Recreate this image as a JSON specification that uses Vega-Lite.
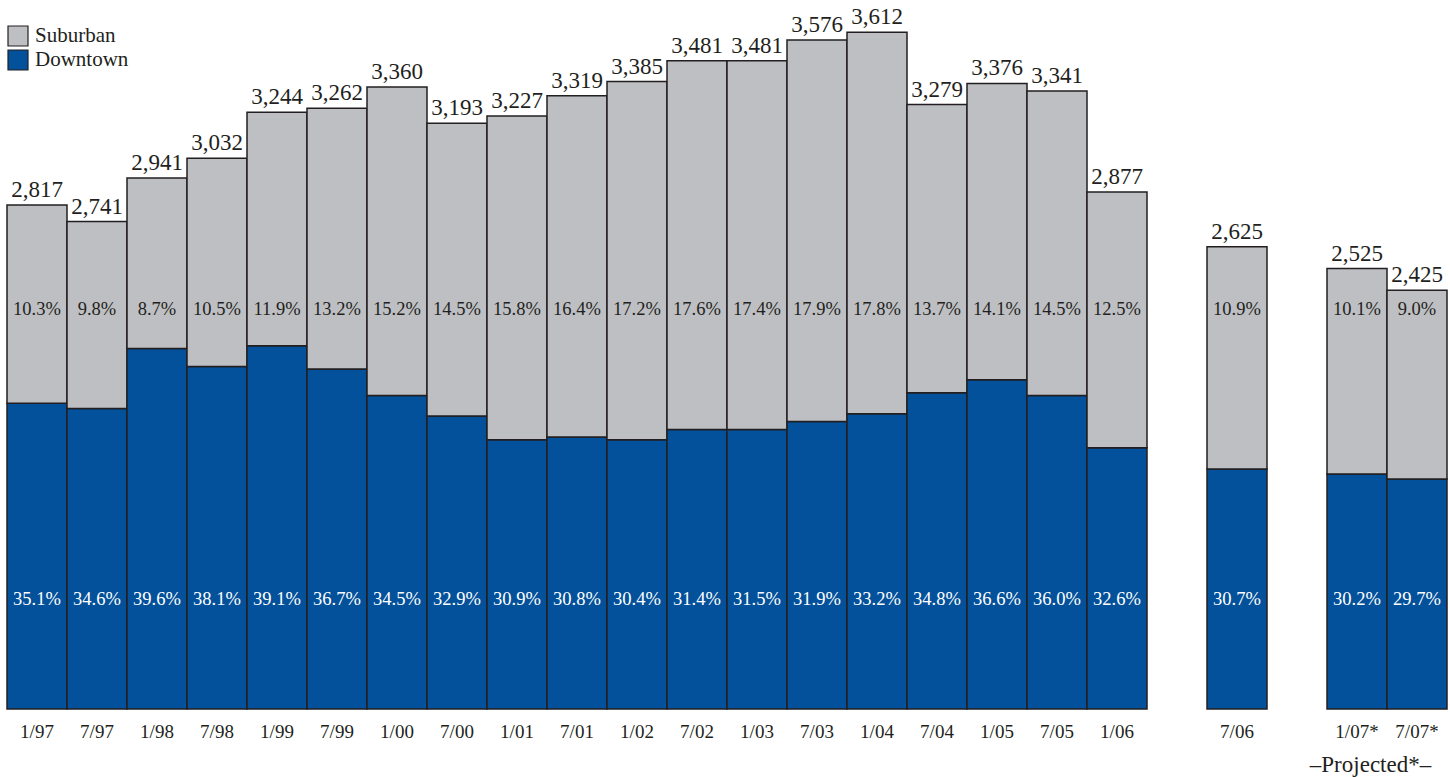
{
  "$schema": "https://vega.github.io/schema/vega-lite/v6.json",
  "width": 1440,
  "height": 696,
  "autosize": {"type": "none"},
  "padding": {"left": 7, "top": 13, "right": 3, "bottom": 68},
  "background": "white",
  "config": {
    "view": {"stroke": null},
    "font": "Liberation Serif",
    "text": {"font": "Liberation Serif"}
  },
  "datasets": {
    "segments": [
      {"period": "1/97", "segment": "Downtown", "value": 1906, "rate": "35.1%"},
      {"period": "1/97", "segment": "Suburban", "value": 911, "rate": "10.3%"},
      {"period": "7/97", "segment": "Downtown", "value": 1882, "rate": "34.6%"},
      {"period": "7/97", "segment": "Suburban", "value": 859, "rate": "9.8%"},
      {"period": "1/98", "segment": "Downtown", "value": 2158, "rate": "39.6%"},
      {"period": "1/98", "segment": "Suburban", "value": 783, "rate": "8.7%"},
      {"period": "7/98", "segment": "Downtown", "value": 2075, "rate": "38.1%"},
      {"period": "7/98", "segment": "Suburban", "value": 957, "rate": "10.5%"},
      {"period": "1/99", "segment": "Downtown", "value": 2170, "rate": "39.1%"},
      {"period": "1/99", "segment": "Suburban", "value": 1074, "rate": "11.9%"},
      {"period": "7/99", "segment": "Downtown", "value": 2063, "rate": "36.7%"},
      {"period": "7/99", "segment": "Suburban", "value": 1199, "rate": "13.2%"},
      {"period": "1/00", "segment": "Downtown", "value": 1941, "rate": "34.5%"},
      {"period": "1/00", "segment": "Suburban", "value": 1419, "rate": "15.2%"},
      {"period": "7/00", "segment": "Downtown", "value": 1847, "rate": "32.9%"},
      {"period": "7/00", "segment": "Suburban", "value": 1346, "rate": "14.5%"},
      {"period": "1/01", "segment": "Downtown", "value": 1738, "rate": "30.9%"},
      {"period": "1/01", "segment": "Suburban", "value": 1489, "rate": "15.8%"},
      {"period": "7/01", "segment": "Downtown", "value": 1751, "rate": "30.8%"},
      {"period": "7/01", "segment": "Suburban", "value": 1568, "rate": "16.4%"},
      {"period": "1/02", "segment": "Downtown", "value": 1738, "rate": "30.4%"},
      {"period": "1/02", "segment": "Suburban", "value": 1647, "rate": "17.2%"},
      {"period": "7/02", "segment": "Downtown", "value": 1785, "rate": "31.4%"},
      {"period": "7/02", "segment": "Suburban", "value": 1696, "rate": "17.6%"},
      {"period": "1/03", "segment": "Downtown", "value": 1785, "rate": "31.5%"},
      {"period": "1/03", "segment": "Suburban", "value": 1696, "rate": "17.4%"},
      {"period": "7/03", "segment": "Downtown", "value": 1822, "rate": "31.9%"},
      {"period": "7/03", "segment": "Suburban", "value": 1754, "rate": "17.9%"},
      {"period": "1/04", "segment": "Downtown", "value": 1857, "rate": "33.2%"},
      {"period": "1/04", "segment": "Suburban", "value": 1755, "rate": "17.8%"},
      {"period": "7/04", "segment": "Downtown", "value": 1954, "rate": "34.8%"},
      {"period": "7/04", "segment": "Suburban", "value": 1325, "rate": "13.7%"},
      {"period": "1/05", "segment": "Downtown", "value": 2014, "rate": "36.6%"},
      {"period": "1/05", "segment": "Suburban", "value": 1362, "rate": "14.1%"},
      {"period": "7/05", "segment": "Downtown", "value": 1941, "rate": "36.0%"},
      {"period": "7/05", "segment": "Suburban", "value": 1400, "rate": "14.5%"},
      {"period": "1/06", "segment": "Downtown", "value": 1701, "rate": "32.6%"},
      {"period": "1/06", "segment": "Suburban", "value": 1176, "rate": "12.5%"},
      {"period": "7/06", "segment": "Downtown", "value": 1604, "rate": "30.7%"},
      {"period": "7/06", "segment": "Suburban", "value": 1021, "rate": "10.9%"},
      {"period": "1/07*", "segment": "Downtown", "value": 1581, "rate": "30.2%"},
      {"period": "1/07*", "segment": "Suburban", "value": 944, "rate": "10.1%"},
      {"period": "7/07*", "segment": "Downtown", "value": 1558, "rate": "29.7%"},
      {"period": "7/07*", "segment": "Suburban", "value": 867, "rate": "9.0%"}
    ],
    "totals": [
      {"period": "1/97", "total": 2817},
      {"period": "7/97", "total": 2741},
      {"period": "1/98", "total": 2941},
      {"period": "7/98", "total": 3032},
      {"period": "1/99", "total": 3244},
      {"period": "7/99", "total": 3262},
      {"period": "1/00", "total": 3360},
      {"period": "7/00", "total": 3193},
      {"period": "1/01", "total": 3227},
      {"period": "7/01", "total": 3319},
      {"period": "1/02", "total": 3385},
      {"period": "7/02", "total": 3481},
      {"period": "1/03", "total": 3481},
      {"period": "7/03", "total": 3576},
      {"period": "1/04", "total": 3612},
      {"period": "7/04", "total": 3279},
      {"period": "1/05", "total": 3376},
      {"period": "7/05", "total": 3341},
      {"period": "1/06", "total": 2877},
      {"period": "7/06", "total": 2625},
      {"period": "1/07*", "total": 2525},
      {"period": "7/07*", "total": 2425}
    ]
  },
  "encoding": {
    "x": {
      "field": "period",
      "type": "nominal",
      "scale": {
        "domain": ["1/97", "7/97", "1/98", "7/98", "1/99", "7/99", "1/00", "7/00", "1/01", "7/01", "1/02", "7/02", "1/03", "7/03", "1/04", "7/04", "1/05", "7/05", "1/06", " ", "7/06", "  ", "1/07*", "7/07*"],
        "paddingInner": 0,
        "paddingOuter": 0
      },
      "axis": {
        "title": "–Projected*–",
        "titleX": 1363,
        "titleY": 62,
        "titleAnchor": null,
        "titleAlign": "center",
        "titleBaseline": "alphabetic",
        "titleFont": "Liberation Serif",
        "titleFontSize": 23,
        "titleFontWeight": "normal",
        "titleColor": "#231F20",
        "labelAngle": 0,
        "labelFont": "Liberation Serif",
        "labelFontSize": 19,
        "labelPadding": 13,
        "labelColor": "#231F20",
        "labelOverlap": false,
        "labelFlush": false,
        "domain": false,
        "ticks": false,
        "grid": false
      }
    }
  },
  "layer": [
    {
      "data": {"name": "segments"},
      "mark": {"type": "bar", "stroke": "#231F20", "strokeWidth": 1.5},
      "encoding": {
        "y": {
          "field": "value",
          "type": "quantitative",
          "stack": "zero",
          "scale": {"domain": [500, 3700], "clamp": true, "zero": false, "nice": false},
          "axis": null
        },
        "color": {
          "field": "segment",
          "type": "nominal",
          "scale": {"domain": ["Suburban", "Downtown"], "range": ["#BEBFC3", "#03519B"]},
          "legend": {
            "title": null,
            "orient": "none",
            "legendX": 0,
            "legendY": 12,
            "padding": 0,
            "symbolType": "square",
            "symbolSize": 400,
            "symbolStrokeColor": "#231F20",
            "symbolStrokeWidth": 1.2,
            "labelFont": "Liberation Serif",
            "labelFontSize": 21,
            "labelColor": "#231F20",
            "labelOffset": 6,
            "rowPadding": -2
          }
        },
        "order": {"field": "segment", "sort": "ascending"}
      }
    },
    {
      "data": {"name": "segments"},
      "transform": [{"filter": "datum.segment === 'Downtown'"}],
      "mark": {"type": "text", "color": "white", "fontSize": 18.5, "baseline": "middle", "align": "center"},
      "encoding": {
        "y": {"datum": 1005, "type": "quantitative", "scale": {"domain": [500, 3700], "clamp": true, "zero": false, "nice": false}},
        "text": {"field": "rate", "type": "nominal"}
      }
    },
    {
      "data": {"name": "segments"},
      "transform": [{"filter": "datum.segment === 'Suburban'"}],
      "mark": {"type": "text", "color": "#231F20", "fontSize": 18.5, "baseline": "middle", "align": "center"},
      "encoding": {
        "y": {"datum": 2340, "type": "quantitative", "scale": {"domain": [500, 3700], "clamp": true, "zero": false, "nice": false}},
        "text": {"field": "rate", "type": "nominal"}
      }
    },
    {
      "data": {"name": "totals"},
      "mark": {"type": "text", "color": "#231F20", "fontSize": 23, "baseline": "alphabetic", "align": "center", "dy": -8},
      "encoding": {
        "y": {"field": "total", "type": "quantitative", "scale": {"domain": [500, 3700], "clamp": true, "zero": false, "nice": false}},
        "text": {"field": "total", "type": "quantitative", "format": ","}
      }
    }
  ]
}
